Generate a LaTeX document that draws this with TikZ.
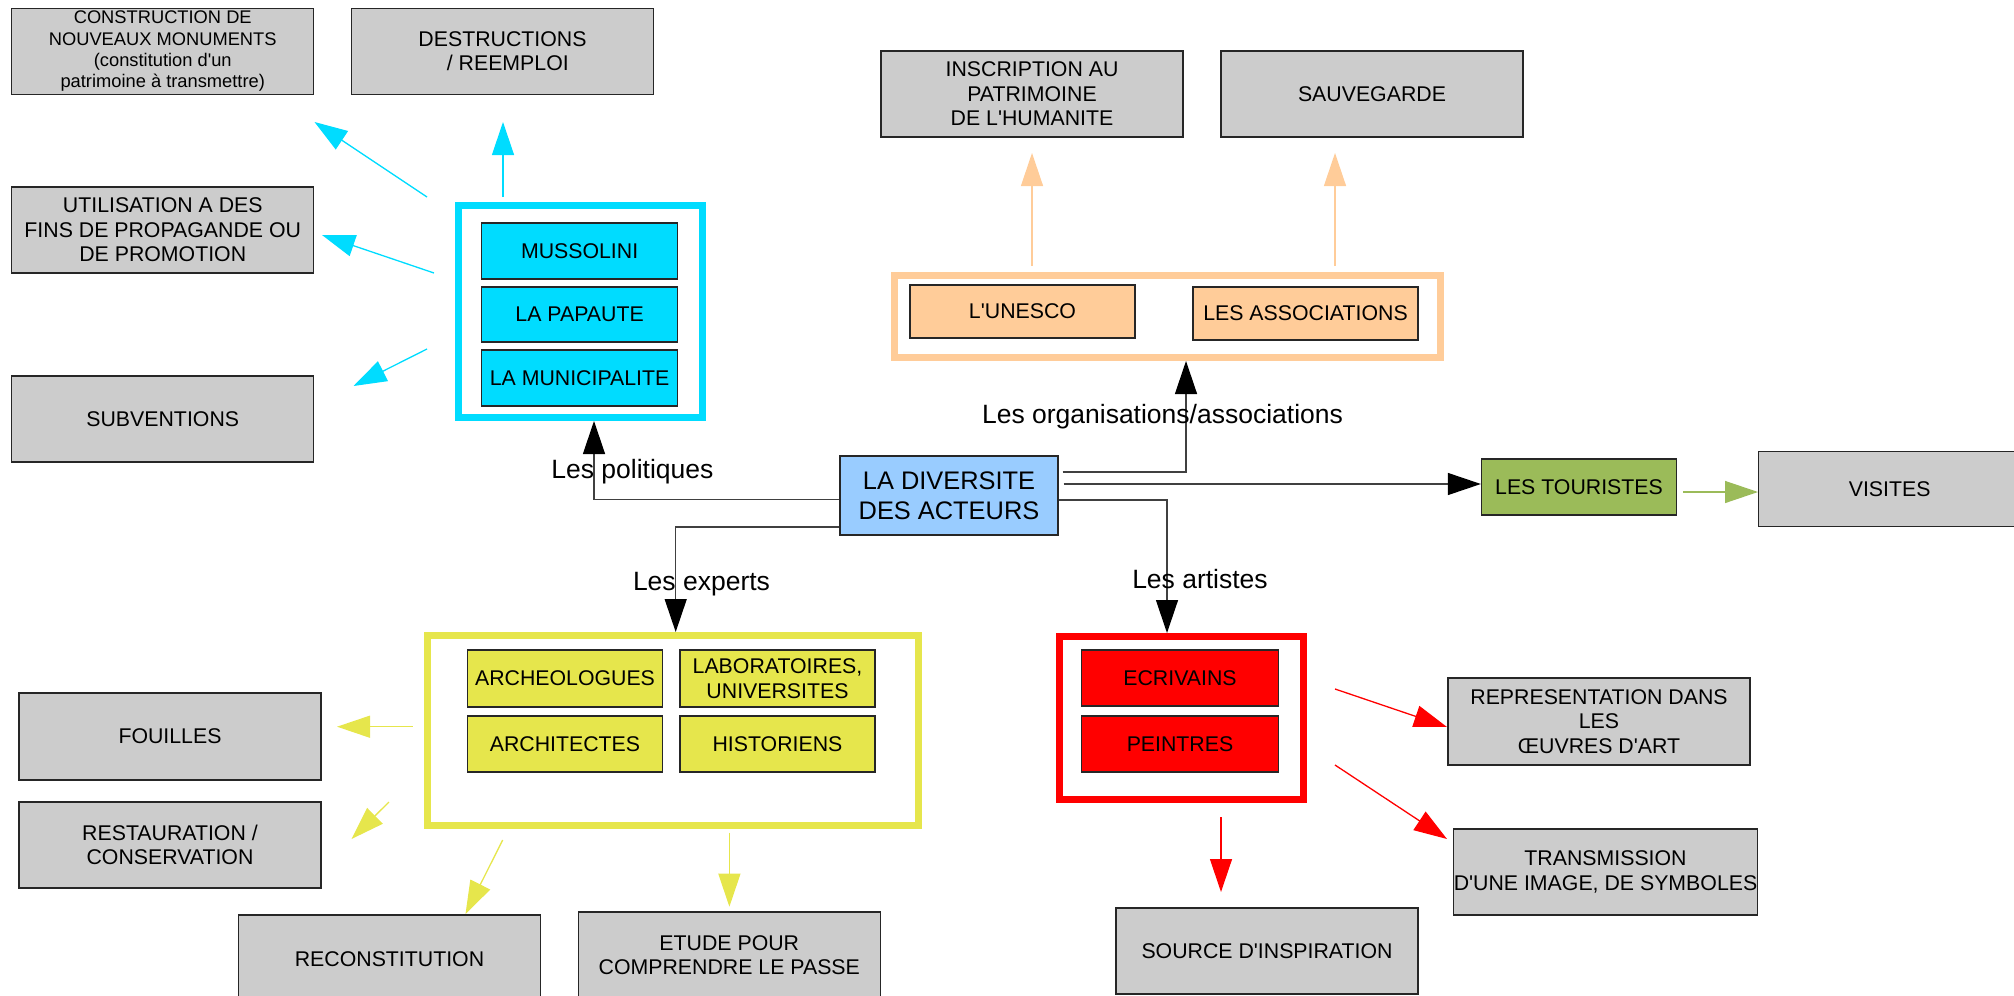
\documentclass[tikz,border=0pt]{standalone}
\usepackage{fontspec}
\newfontfamily\lib{Liberation Sans}
\usetikzlibrary{arrows.meta}
\definecolor{boxgray}{HTML}{CCCCCC}
\definecolor{cyanc}{HTML}{00DCFF}
\definecolor{orangec}{HTML}{FFCC99}
\definecolor{bluec}{HTML}{99CCFF}
\definecolor{greenc}{HTML}{9BBB59}
\definecolor{yellowc}{HTML}{E6E64C}
\definecolor{redc}{HTML}{FF0000}
\tikzset{
  box/.style={draw=black!85, line width=1.3pt, inner sep=0pt, align=center,
    font=\lib\fontsize{21.3}{24.5}\selectfont},
  gbox/.style={box, fill=boxgray, minimum width=302pt, minimum height=86pt},
  ibox/.style={box, minimum width=196pt, minimum height=56pt},
  grpframe/.style={line width=7pt, inner sep=0pt, fill=white},
  lbl/.style={font=\lib\fontsize{26.5}{30}\selectfont, inner sep=0pt, anchor=base},
  tipc/.style={-{Triangle[length=33pt,width=22pt,color=#1]}},
  conn/.style={draw=black!75, line width=1.3pt, tipc=black},
  carrow/.style={draw=#1, line width=1.3pt, tipc=#1},
}
\begin{document}
\begin{tikzpicture}[x=1pt,y=-1pt]
\useasboundingbox (0,0) rectangle (2014,996);
\clip (0,0) rectangle (2014,996);

% group frames
\node[grpframe, draw=cyanc, minimum width=244pt, minimum height=212pt] (cframe) at (580.5,311.5) {};
\node[grpframe, draw=orangec, minimum width=545.5pt, minimum height=82pt] (oframe) at (1167.25,316.5) {};
\node[grpframe, draw=redc, minimum width=244.5pt, minimum height=163pt] (rframe) at (1181.25,718) {};
\node[grpframe, draw=yellowc, minimum width=491pt, minimum height=190pt] (yframe) at (673,730.5) {};

% gray boxes
\node[gbox, font=\lib\fontsize{18.3}{21.2}\selectfont] (constr) at (162.75,51.3)
  {CONSTRUCTION DE\\NOUVEAUX MONUMENTS\\(constitution d'un\\patrimoine à transmettre)};
\node[gbox] (destr) at (502.5,51.3) {DESTRUCTIONS\\\hspace*{0.5em}/ REEMPLOI};
\node[gbox] (util) at (162.75,230) {UTILISATION A DES\\FINS DE PROPAGANDE OU\\DE PROMOTION};
\node[gbox] (subv) at (162.75,419) {SUBVENTIONS};
\node[gbox] (inscr) at (1032,94) {INSCRIPTION AU\\PATRIMOINE\\DE L'HUMANITE};
\node[gbox] (sauv) at (1372,94) {SAUVEGARDE};
\node[gbox, minimum width=262pt, minimum height=75pt, anchor=west] (visites) at (1758,489.2) {VISITES};
\node[gbox, minimum height=87pt] (repr) at (1599,721.5) {REPRESENTATION DANS\\LES\\ŒUVRES D'ART};
\node[gbox] (transm) at (1605.5,872) {TRANSMISSION\\D'UNE IMAGE, DE SYMBOLES};
\node[gbox] (source) at (1267,951) {SOURCE D'INSPIRATION};
\node[gbox, minimum height=87pt] (fouil) at (170,736.5) {FOUILLES};
\node[gbox] (restau) at (170,845) {RESTAURATION /\\CONSERVATION};
\node[gbox, minimum height=88pt] (recons) at (389.5,959) {RECONSTITUTION};
\node[gbox] (etude) at (729.3,955) {ETUDE POUR\\COMPRENDRE LE PASSE};

% inner boxes
\node[ibox, fill=cyanc] (muss) at (579.6,251) {MUSSOLINI};
\node[ibox, fill=cyanc, minimum height=55pt] (pap) at (579.6,314.5) {LA PAPAUTE};
\node[ibox, fill=cyanc] (muni) at (579.6,378) {LA MUNICIPALITE};
\node[ibox, fill=orangec, minimum width=225pt, minimum height=53pt] (unesco) at (1022.5,311.5) {L'UNESCO};
\node[ibox, fill=orangec, minimum width=225pt, minimum height=53pt] (assoc) at (1305.5,313.5) {LES ASSOCIATIONS};
\node[box, fill=bluec, minimum width=218pt, minimum height=79pt,
  font=\lib\fontsize{25.4}{30}\selectfont] (central) at (949,495.5) {LA DIVERSITE\\DES ACTEURS};
\node[ibox, fill=greenc, minimum width=195pt] (tour) at (1579,487) {LES TOURISTES};
\node[ibox, fill=redc, minimum width=196.5pt] (ecri) at (1180,678) {ECRIVAINS};
\node[ibox, fill=redc, minimum width=196.5pt] (pein) at (1180,744) {PEINTRES};
\node[ibox, fill=yellowc, minimum width=195.5pt, minimum height=57pt] (archeo) at (565,678.5) {ARCHEOLOGUES};
\node[ibox, fill=yellowc, minimum width=195pt, minimum height=57pt] (labo) at (777.5,678.5) {LABORATOIRES,\\UNIVERSITES};
\node[ibox, fill=yellowc, minimum width=195.5pt] (archi) at (565,744) {ARCHITECTES};
\node[ibox, fill=yellowc, minimum width=195pt] (histo) at (777.5,744) {HISTORIENS};

% black connectors from the central box
\draw[conn] ([yshift=-3.8pt]central.west) -| ([xshift=13.5pt]cframe.south);
\draw[conn] ([yshift=-31.5pt]central.west) -| ([xshift=2.7pt]yframe.north);
\draw[conn] ([yshift=-4.5pt]central.east) -| ([xshift=-14.25pt]rframe.north);
\draw[conn] ([xshift=4pt,yshift=23.5pt]central.east) -| ([xshift=18.75pt]oframe.south);
\coordinate (ts) at ([xshift=5pt,yshift=11.5pt]central.east);
\draw[conn] (ts) -- (ts -| tour.west);

% labels
\node[lbl] (lpol) at (632.4,478) {Les politiques};
\node[lbl] (lexp) at (701.5,590.7) {Les experts};
\node[lbl] (lart) at (1200,588) {Les artistes};
\node[lbl] (lorg) at (1162.5,423) {Les organisations/associations};

% green
\coordinate (gs) at (1683,492);
\draw[carrow=greenc] (gs) -- (gs -| visites.west);

% cyan arrows
\coordinate (c1s) at (427,197); \coordinate (c1e) at (314.5,122);
\coordinate (c2s) at (503,197); \coordinate (c2e) at (503,122);
\coordinate (c3s) at (434,273); \coordinate (c3e) at (322,235);
\coordinate (c4s) at (427,349); \coordinate (c4e) at (353.5,386);
\draw[carrow=cyanc] (c1s) -- (c1e);
\draw[carrow=cyanc] (c2s) -- (c2e);
\draw[carrow=cyanc] (c3s) -- (c3e);
\draw[carrow=cyanc] (c4s) -- (c4e);

% orange arrows
\coordinate (o1s) at (1032,266); \coordinate (o1e) at (1032,153);
\coordinate (o2s) at (1335,266); \coordinate (o2e) at (1335,153);
\draw[carrow=orangec] (o1s) -- (o1e);
\draw[carrow=orangec] (o2s) -- (o2e);

% red arrows
\coordinate (r1s) at (1335,689); \coordinate (r1e) at (1447,727);
\coordinate (r2s) at (1335,765); \coordinate (r2e) at (1447,839);
\coordinate (r3s) at (1221,817); \coordinate (r3e) at (1221,892);
\draw[carrow=redc] (r1s) -- (r1e);
\draw[carrow=redc] (r2s) -- (r2e);
\draw[carrow=redc] (r3s) -- (r3e);

% yellow arrows
\coordinate (y1s) at (412.5,726.7); \coordinate (y1e) at (337,726.7);
\coordinate (y2s) at (389,802); \coordinate (y2e) at (351.5,839);
\coordinate (y3s) at (502.7,840); \coordinate (y3e) at (465.5,914);
\coordinate (y4s) at (729.4,832.7); \coordinate (y4e) at (729.4,906.7);
\draw[carrow=yellowc] (y1s) -- (y1e);
\draw[carrow=yellowc] (y2s) -- (y2e);
\draw[carrow=yellowc] (y3s) -- (y3e);
\draw[carrow=yellowc] (y4s) -- (y4e);
\end{tikzpicture}
\end{document}
